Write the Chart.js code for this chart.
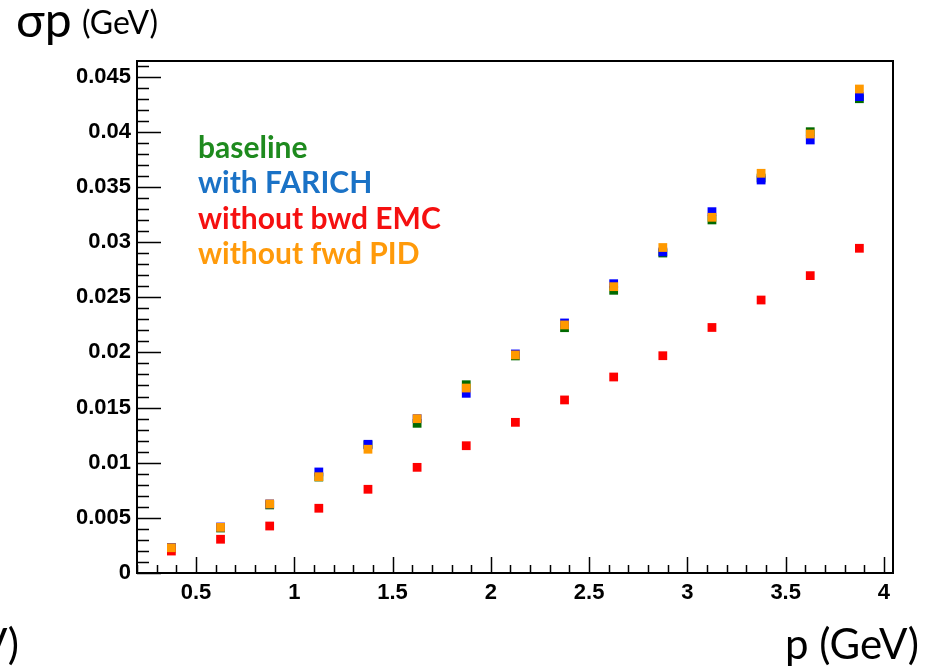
<!DOCTYPE html>
<html>
<head>
<meta charset="utf-8">
<script src="https://cdn.jsdelivr.net/npm/chart.js@4.4.1/dist/chart.umd.min.js"></script>
<style>
    body { margin: 0; background: #fff; }
    #wrap { width: 934px; height: 672px; position: relative; }
</style>
</head>
<body>
<div id="wrap"><canvas id="myGraph"></canvas></div>
<script>
// momentum bin centres (GeV)
const pBins = [0.375, 0.625, 0.875, 1.125, 1.375, 1.625, 1.875, 2.125, 2.375, 2.625, 2.875, 3.125, 3.375, 3.625, 3.875];

// sigma_p (GeV) for each detector configuration
const baseline   = [0.00227, 0.00408, 0.00617, 0.00870, 0.01161, 0.01357, 0.01707, 0.01968, 0.02224, 0.02563, 0.02901, 0.03201, 0.03581, 0.04001, 0.04300];
const withFarich = [0.00231, 0.00417, 0.00626, 0.00916, 0.01167, 0.01399, 0.01629, 0.01986, 0.02267, 0.02623, 0.02911, 0.03276, 0.03563, 0.03926, 0.04319];
const noBwdEmc   = [0.00199, 0.00306, 0.00426, 0.00587, 0.00759, 0.00958, 0.01154, 0.01366, 0.01569, 0.01777, 0.01970, 0.02226, 0.02475, 0.02696, 0.02944];
const noFwdPid   = [0.00229, 0.00414, 0.00626, 0.00873, 0.01122, 0.01399, 0.01677, 0.01977, 0.02249, 0.02596, 0.02951, 0.03225, 0.03624, 0.03980, 0.04388];

const labels = ['baseline', 'with FARICH', 'without bwd EMC', 'without fwd PID'];

const xTicks = [0.5, 1, 1.5, 2, 2.5, 3, 3.5, 4];
const yTicks = [0, 0.005, 0.01, 0.015, 0.02, 0.025, 0.03, 0.035, 0.04, 0.045];

function toPoints(values) {
    return values.map((v, i) => ({x: pBins[i], y: v}));
}

function series(label, values, color, order) {
    return {
        label: label,
        data: toPoints(values),
        showLine: false,
        pointStyle: 'rect',
        pointRadius: 6.2,
        pointBorderWidth: 0,
        pointBackgroundColor: color,
        order: order
    };
}

// ROOT style frame: ticks drawn inside the axes, minor ticks between labels
const framePlugin = {
    id: 'frame',
    afterDatasetsDraw(chart) {
        const ctx = chart.ctx;
        const a = chart.chartArea;
        const xs = chart.scales.x, ys = chart.scales.y;
        ctx.save();
        ctx.strokeStyle = '#000';
        ctx.lineWidth = 1.5;
        ctx.beginPath();
        for (let i = 2; i <= 40; i++) {
            const v = i / 10;
            const px = Math.round(xs.getPixelForValue(v)) + 0.5;
            const len = xTicks.some(t => Math.abs(t - v) < 1e-6) ? 16 : 8;
            if (px < a.left || px > a.right) continue;
            ctx.moveTo(px, a.bottom);
            ctx.lineTo(px, a.bottom - len);
        }
        for (let i = 0; i <= 46; i++) {
            const v = i / 1000;
            const py = Math.round(ys.getPixelForValue(v)) + 0.5;
            const len = yTicks.some(t => Math.abs(t - v) < 1e-7) ? 24 : 12;
            if (py < a.top) continue;
            ctx.moveTo(a.left, py);
            ctx.lineTo(a.left + len, py);
        }
        ctx.stroke();
        ctx.lineWidth = 2;
        ctx.strokeRect(a.left, a.top, a.right - a.left, a.bottom - a.top);
        ctx.restore();
    }
};

const legendColors = ['#1e8a1e', '#1a72c6', '#f51010', '#ff9a0a'];

const textPlugin = {
    id: 'texts',
    afterDraw(chart) {
        const ctx = chart.ctx;
        ctx.save();
        ctx.fillStyle = '#000';
        ctx.textBaseline = 'alphabetic';
        ctx.textAlign = 'left';
        ctx.font = '48px Lato';
        ctx.fillText('σp', 16, 37);
        ctx.font = '32px Lato';
        ctx.fillText('(GeV)', 82, 34);

        ctx.font = '42px Lato';
        ctx.textAlign = 'right';
        ctx.fillText('p (GeV)', 919, 659);
        ctx.fillText('(GeV)', 19, 659);

        ctx.textAlign = 'left';
        ctx.font = 'bold 30px Lato';
        labels.forEach((t, i) => {
            ctx.fillStyle = legendColors[i];
            ctx.fillText(t, 198, 158 + i * 35.3);
        });
        ctx.restore();
    }
};

const ctx = document.getElementById('myGraph').getContext('2d');
const lineChart = new Chart(ctx, {
    type: 'scatter',
    data: {
        datasets: [
            series(labels[0], baseline, '#006a00', 3),
            series(labels[1], withFarich, '#0000ff', 2),
            series(labels[2], noBwdEmc, '#ff0000', 1),
            series(labels[3], noFwdPid, '#ff9900', 0)
        ]
    },
    options: {
        responsive: true,
        maintainAspectRatio: false,
        animation: false,
        layout: { padding: { top: 61, right: 41, left: 0, bottom: 0 } },
        plugins: { legend: { display: false }, tooltip: { enabled: false } },
        scales: {
            x: {
                type: 'linear',
                min: 0.2,
                max: 4.046,
                grid: { display: false, drawTicks: false },
                border: { display: false },
                afterFit: s => { s.height = 99; },
                afterBuildTicks: s => { s.ticks = xTicks.map(v => ({value: v})); },
                ticks: {
                    padding: 7,
                    color: '#000',
                    font: { family: 'Liberation Sans', weight: 'bold', size: 22 },
                    callback: v => String(v)
                }
            },
            y: {
                type: 'linear',
                min: 0,
                max: 0.04642,
                grid: { display: false, drawTicks: false },
                border: { display: false },
                afterFit: s => { s.width = 137; },
                afterBuildTicks: s => { s.ticks = yTicks.map(v => ({value: v})); },
                ticks: {
                    padding: 6,
                    color: '#000',
                    font: { family: 'Liberation Sans', weight: 'bold', size: 22 },
                    callback: v => String(+v.toFixed(3))
                }
            }
        }
    },
    plugins: [framePlugin, textPlugin]
});
</script>
</body>
</html>
